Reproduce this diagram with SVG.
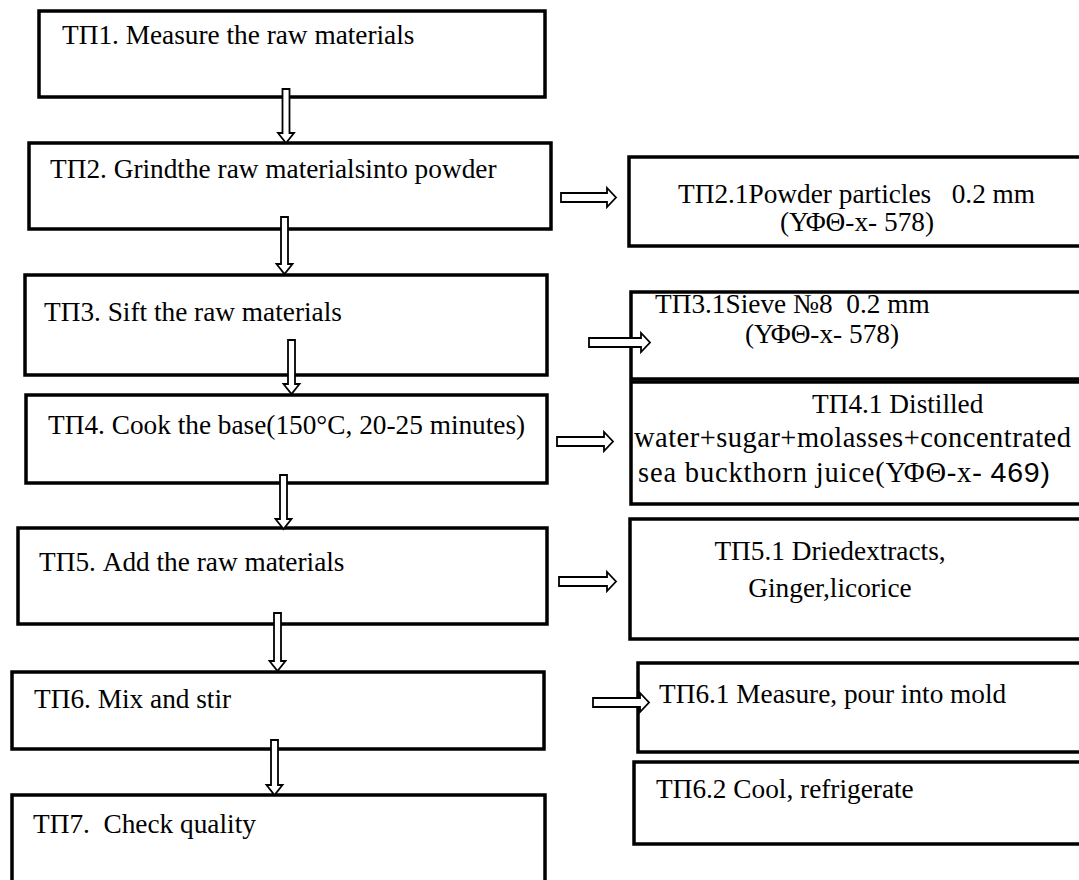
<svg xmlns="http://www.w3.org/2000/svg" width="1079" height="880" viewBox="0 0 1079 880">
<style>
.box{fill:#fff;stroke:#000;stroke-width:3.5}
.t{font-family:"Liberation Serif","Times New Roman",serif;font-size:27.3px;fill:#000}
.s{font-family:"Liberation Sans",Arial,sans-serif}
.arr{fill:#fff;stroke:#000;stroke-width:1.8;stroke-linejoin:miter}
</style>
<rect width="1079" height="880" fill="#fff"/>
<g id="tp1"><rect class="box" x="39" y="11" width="506" height="86"/><text class="t" x="62" y="44">ТП1. Measure the raw materials</text></g>
<g id="tp2"><rect class="box" x="29" y="143" width="522" height="86"/><text class="t" x="50" y="178">ТП2. Grindthe raw materialsinto powder</text></g>
<g id="tp3"><rect class="box" x="25" y="275" width="522" height="100"/><text class="t" x="44" y="321">ТП3. Sift the raw materials</text></g>
<g id="tp4"><rect class="box" x="26" y="395" width="521" height="88"/><text class="t" x="48" y="434">ТП4. Cook the base(150°C, 20-25 minutes)</text></g>
<g id="tp5"><rect class="box" x="18" y="528" width="529" height="96"/><text class="t" x="39" y="571">ТП5. Add the raw materials</text></g>
<g id="tp6"><rect class="box" x="12" y="672" width="532" height="77"/><text class="t" x="34" y="708">ТП6. Mix and stir</text></g>
<g id="tp7"><rect class="box" x="12" y="795" width="533" height="100"/><text class="t" x="33" y="833" xml:space="preserve">ТП7.  Check quality</text></g>
<g id="tp21"><rect class="box" x="629" y="157" width="470" height="89"/><text class="t" x="678" y="203" xml:space="preserve">ТП2.1Powder particles   0.2 mm</text><text class="t" x="857" y="231" text-anchor="middle">(ΥΦΘ-x- 578)</text></g>
<g id="tp31"><rect class="box" x="631" y="292" width="470" height="87"/><text class="t" x="655" y="313" xml:space="preserve">ТП3.1Sieve №8  0.2 mm</text><text class="t" x="745" y="343">(ΥΦΘ-x- 578)</text></g>
<g id="tp41"><rect class="box" x="631" y="382" width="470" height="122"/><text class="t" x="812" y="413">ТП4.1 Distilled</text><text class="t" x="634" y="447" textLength="437" lengthAdjust="spacing" style="font-size:28.5px">water+sugar+molasses+concentrated</text><text class="t" x="638" y="482" textLength="412" lengthAdjust="spacing" style="font-size:28.5px">sea buckthorn juice(ΥΦΘ-x- <tspan class="s">469)</tspan></text></g>
<g id="tp51"><rect class="box" x="630" y="519" width="470" height="120"/><text class="t" x="830" y="560" text-anchor="middle">ТП5.1 Driedextracts,</text><text class="t" x="830" y="597" text-anchor="middle">Ginger,licorice</text></g>
<g id="tp61"><rect class="box" x="638" y="663" width="470" height="89"/><text class="t" x="659" y="703">ТП6.1 Measure, pour into mold</text></g>
<g id="tp62"><rect class="box" x="634" y="762" width="470" height="82"/><text class="t" x="656" y="798">ТП6.2 Cool, refrigerate</text></g>
<g id="connectors">
<polygon class="arr" points="282.5,89 289.5,89 289.5,133 294,133 286,143 278,133 282.5,133"/>
<polygon class="arr" points="281,217 288,217 288,264 292.5,264 284.5,274 276.5,264 281,264"/>
<polygon class="arr" points="288,340 295,340 295,384 299.5,384 291.5,394 283.5,384 288,384"/>
<polygon class="arr" points="280,475 287,475 287,519 291.5,519 283.5,529 275.5,519 280,519"/>
<polygon class="arr" points="274,613 281,613 281,661 285.5,661 277.5,671 269.5,661 274,661"/>
<polygon class="arr" points="271,740 278,740 278,785 282.5,785 274.5,795 266.5,785 271,785"/>
<polygon class="arr" points="561,193 607,193 607,188 616,197.5 607,207 607,202 561,202"/>
<polygon class="arr" points="589,338 641,338 641,333 650,342.5 641,352 641,347 589,347"/>
<polygon class="arr" points="557,437 604,437 604,432 613,441.5 604,451 604,446 557,446"/>
<polygon class="arr" points="559,577 607,577 607,572 616,581.5 607,591 607,586 559,586"/>
<polygon class="arr" points="593,698 640,698 640,693 649,702.5 640,712 640,707 593,707"/>
</g>
</svg>
